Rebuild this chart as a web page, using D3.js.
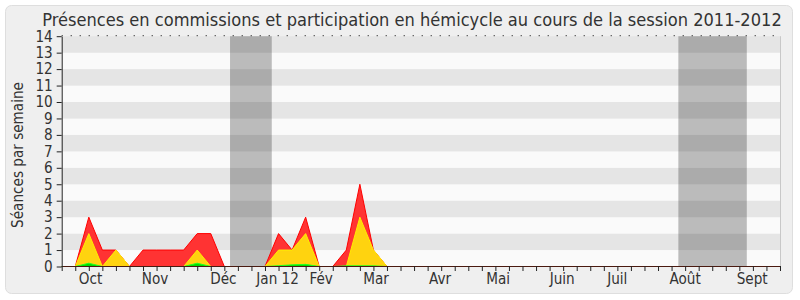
<!DOCTYPE html>
<html><head><meta charset="utf-8">
<script src="https://cdn.jsdelivr.net/npm/d3@7"></script>
<style>
html,body{margin:0;padding:0;background:#fff;}
svg text{font-family:"DejaVu Sans Condensed","DejaVu Sans",sans-serif;fill:#333;}
</style></head>
<body><svg id="c" width="800" height="300"></svg>
<script>
// ---- data ----
const weeks = d3.range(54);
const commissions = [0,0,3,1,1,0,1,1,1,1,2,2,0,0,0,0,2,1,3,0,0,1,5,1,0,0,0,0,0,0,0,0,0,0,0,0,0,0,0,0,0,0,0,0,0,0,0,0,0,0,0,0,0,0];
const hemicycle   = [0,0,2,0,1,0,0,0,0,0,1,0,0,0,0,0,1,1,2,0,0,0,3,1,0,0,0,0,0,0,0,0,0,0,0,0,0,0,0,0,0,0,0,0,0,0,0,0,0,0,0,0,0,0];
const interventions=[0,0,0.2,0,0,0,0,0,0,0,0.2,0,0,0,0,0,0.05,0.1,0.13,0,0,0.04,0.04,0.04,0,0,0,0,0,0,0,0,0,0,0,0,0,0,0,0,0,0,0,0,0,0,0,0,0,0,0,0,0,0];
const monthLabels = ["Oct","Nov","Déc","Jan 12","Fév","Mar","Avr","Mai","Juin","Juil","Août","Sept"];
const monthWeek   = [2.13,6.89,11.93,15.93,19.14,23.19,27.92,32.2,36.93,40.99,46.0,50.95];
const vacStart = [12.42,45.5];
const vacEnd   = [15.5,50.55];
const yTicks = d3.range(0,15);
const titleText = "Présences en commissions et participation en hémicycle au cours de la session 2011-2012";
const yLabel = "Séances par semaine";

// ---- chart ----
const svg = d3.select("#c");
svg.append("rect").attr("x",5.5).attr("y",5.5).attr("width",787).attr("height",288).attr("rx",6)
  .attr("fill","#efefef").attr("stroke","#dedede");

const x = d3.scaleLinear().domain([0,53]).range([61.7,780]);
const y = d3.scaleLinear().domain([0,14]).range([266.5,36.2]);

// stripes
const g = svg.append("g");
g.selectAll("rect.row").data(d3.range(0,14)).join("rect")
  .attr("x",x(0)).attr("width",x(53)-x(0))
  .attr("y",d=>y(d+1)).attr("height",d=>y(d)-y(d+1))
  .attr("fill",d=>d%2===1?"#e5e5e5":"#fafafa");

// vacation bands
g.selectAll("rect.vac").data(vacStart).join("rect")
  .attr("x",(d)=>x(d)).attr("width",(d,i)=>x(vacEnd[i])-x(d))
  .attr("y",y(14)).attr("height",y(0)-y(14))
  .attr("fill","rgba(0,0,0,0.25)");

// areas
const areaGen = d3.area().x((d,i)=>x(weeks[i])).y0(y(0)).y1(d=>y(d));
const lineGen = d3.line().x((d,i)=>x(weeks[i])).y(d=>y(d));
function layer(vals, fill, stroke){
  svg.append("path").attr("d",areaGen(vals)).attr("fill",fill);
  svg.append("path").attr("d",lineGen(vals)).attr("fill","none").attr("stroke",stroke).attr("stroke-width",1);
}
layer(commissions,"#ff3333","#ff0000");
layer(hemicycle,"#ffd30f","#ffee00");
layer(interventions,"#00dd00","#22ff22");

// top dotted line
svg.append("line").attr("x1",x(0)).attr("x2",x(53)).attr("y1",y(14)-0.5).attr("y2",y(14)-0.5)
  .attr("stroke","#000").attr("stroke-dasharray","1,8");
// right border
svg.append("line").attr("x1",x(53)+0.5).attr("x2",x(53)+0.5).attr("y1",y(14)).attr("y2",y(0))
  .attr("stroke","#c8c8c8");

// axes
const xAxis = d3.axisBottom(x).tickValues(weeks).tickSize(5).tickSizeOuter(0).tickFormat("");
const gx = svg.append("g").attr("transform",`translate(0,${y(0)-0.5})`).call(xAxis);
gx.select(".domain").attr("stroke","#4a1a10");
gx.selectAll(".tick line").attr("stroke","#222");

const yAxis = d3.axisLeft(y).tickValues(yTicks).tickSize(5).tickSizeOuter(0).tickPadding(4).tickFormat(d3.format("d"));
const gy = svg.append("g").attr("transform",`translate(${x(0)},0)`).call(yAxis);
gy.select(".domain").attr("stroke","#222");
gy.selectAll(".tick line").attr("stroke","#222");
gy.selectAll(".tick text").attr("font-family",null).style("font-size","14px").attr("fill","#333");

// month labels
const ml = svg.append("g").selectAll("text").data(monthLabels).join("text")
  .attr("x",(d,i)=>x(monthWeek[i])).attr("y",284).attr("text-anchor","middle")
  .style("font-size","14px").text(d=>d);

// fit font size to measured widths
const sept = ml.filter(d=>d==="Sept").node();
const f = 31/sept.getComputedTextLength();
const axisSize = 14*f;
ml.style("font-size",axisSize+"px");
gy.selectAll(".tick text").style("font-size",axisSize+"px");

// y label
svg.append("text").attr("transform","translate(23,155) rotate(-90)").attr("text-anchor","middle")
  .style("font-size",axisSize+"px").text(yLabel);

// title
const t = svg.append("text").attr("x",412).attr("y",26).attr("text-anchor","middle")
  .style("font-size","16px").text(titleText);
const tw = t.node().getComputedTextLength();
t.style("font-size",(16*740/tw)+"px");
</script></body></html>
